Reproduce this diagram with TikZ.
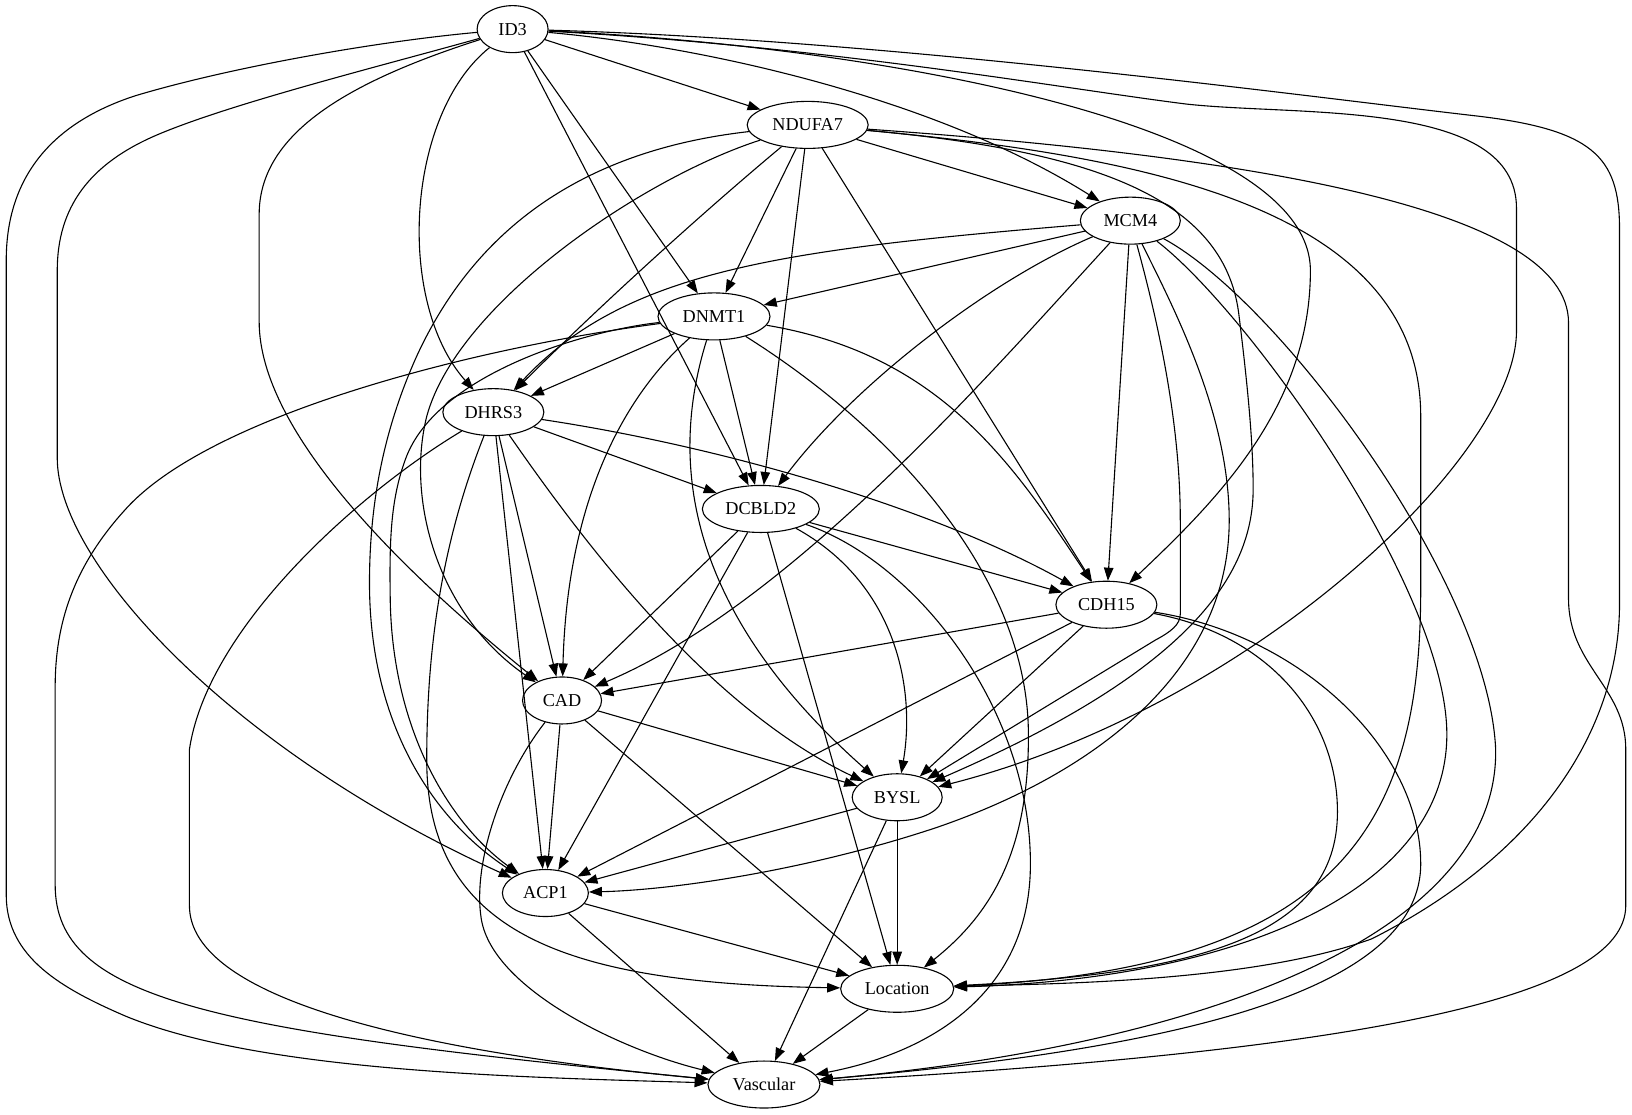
\documentclass[tikz,border=0pt]{standalone}
\usepackage{fontspec}
\setmainfont{Liberation Serif}
\usetikzlibrary{arrows.meta,shapes.geometric}
\begin{document}
\begin{tikzpicture}[x=1.0408pt,y=-1.0408pt,
  nd/.style={draw,ellipse,inner sep=0pt,minimum height=47pt,line width=1.1pt,font=\fontsize{18.2}{20}\selectfont},
  e/.style={-{Triangle[length=13pt,width=9.5pt]},line width=1.1pt}]
\useasboundingbox (0,0) rectangle (1568,1071);
% nodes
\node[nd,minimum width=71pt]  (ID3)      at (492.5,28)  {ID3};
\node[nd,minimum width=121pt] (NDUFA7)   at (776,120)   {NDUFA7};
\node[nd,minimum width=100pt] (MCM4)     at (1086,212)  {MCM4};
\node[nd,minimum width=112pt] (DNMT1)    at (686,304)   {DNMT1};
\node[nd,minimum width=101pt] (DHRS3)    at (474,396)   {DHRS3};
\node[nd,minimum width=117pt] (DCBLD2)   at (731,489)   {DCBLD2};
\node[nd,minimum width=101pt] (CDH15)    at (1063,581)  {CDH15};
\node[nd,minimum width=79pt]  (CAD)      at (540,673)   {CAD};
\node[nd,minimum width=90pt]  (BYSL)     at (862,766)   {BYSL};
\node[nd,minimum width=86pt]  (ACP1)     at (524,858)   {ACP1};
\node[nd,minimum width=113pt] (Location) at (862,950)   {Location};
\node[nd,minimum width=112pt] (Vascular) at (734,1042)  {Vascular};
% ID3
\draw[e] (ID3) -- (NDUFA7);
\draw[e] (ID3) .. controls (680,45) and (900,95) .. (MCM4);
\draw[e] (ID3) -- (DNMT1);
\draw[e] (ID3) .. controls (390,110) and (380,290) .. (DHRS3);
\draw[e] (ID3) -- (DCBLD2);
\draw[e] (ID3) .. controls (850,45) and (1259,120) .. (1259,260) .. controls (1259,390) and (1170,480) .. (CDH15);
\draw[e] (ID3) .. controls (330,80) and (249,130) .. (249,206) -- (249,309) .. controls (249,420) and (400,560) .. (CAD);
\draw[e] (ID3) .. controls (800,45) and (1020,85) .. (1140,100) .. controls (1250,112) and (1457,95) .. (1457,200) -- (1457,318) .. controls (1457,440) and (1200,680) .. (BYSL);
\draw[e] (ID3) .. controls (360,65) and (220,100) .. (150,130) .. controls (85,158) and (55,200) .. (55,260) -- (55,440) .. controls (55,540) and (220,720) .. (ACP1);
\draw[e] (ID3) .. controls (850,38) and (1250,92) .. (1415,111) .. controls (1530,124) and (1556,150) .. (1556,220) -- (1556,580) .. controls (1556,700) and (1480,820) .. (1318,902) .. controls (1200,945) and (1000,945) .. (Location);
\draw[e] (ID3) .. controls (360,40) and (220,65) .. (130,92) .. controls (50,118) and (6,170) .. (6,250) -- (6,860) .. controls (6,920) and (60,950) .. (120,976) .. controls (250,1030) and (500,1035) .. (Vascular);
% NDUFA7
\draw[e] (NDUFA7) -- (MCM4);
\draw[e] (NDUFA7) -- (DNMT1);
\draw[e] (NDUFA7) .. controls (680,200) and (580,290) .. (DHRS3);
\draw[e] (NDUFA7) -- (DCBLD2);
\draw[e] (NDUFA7) -- (CDH15);
\draw[e] (NDUFA7) .. controls (620,170) and (440,290) .. (410,400) .. controls (390,480) and (420,590) .. (CAD);
\draw[e] (NDUFA7) .. controls (1050,145) and (1175,190) .. (1190,300) .. controls (1200,380) and (1204,430) .. (1204,470) .. controls (1204,560) and (1130,650) .. (BYSL);
\draw[e] (NDUFA7) .. controls (600,140) and (470,190) .. (400,343) .. controls (370,410) and (355,480) .. (355,560) .. controls (355,700) and (420,790) .. (ACP1);
\draw[e] (NDUFA7) .. controls (1100,150) and (1365,200) .. (1365,400) -- (1365,560) .. controls (1366,780) and (1300,930) .. (Location);
\draw[e] (NDUFA7) .. controls (1200,150) and (1507,200) .. (1507,310) -- (1507,575) .. controls (1507,640) and (1562,660) .. (1562,720) -- (1562,870) .. controls (1562,960) and (1300,1010) .. (Vascular);
% MCM4
\draw[e] (MCM4) -- (DNMT1);
\draw[e] (MCM4) .. controls (750,240) and (600,260) .. (DHRS3);
\draw[e] (MCM4) .. controls (950,270) and (820,370) .. (DCBLD2);
\draw[e] (MCM4) -- (CDH15);
\draw[e] (MCM4) .. controls (950,360) and (760,580) .. (CAD);
\draw[e] (MCM4) .. controls (1110,300) and (1134,400) .. (1134,500) -- (1134,590) .. controls (1134,600) and (1125,607) .. (1110,615) -- (BYSL);
\draw[e] (MCM4) .. controls (1130,300) and (1181,400) .. (1181,500) .. controls (1181,640) and (1060,740) .. (900,795) .. controls (780,835) and (650,855) .. (ACP1);
\draw[e] (MCM4) .. controls (1200,300) and (1385,560) .. (1390,700) .. controls (1395,850) and (1200,940) .. (Location);
\draw[e] (MCM4) .. controls (1230,290) and (1430,560) .. (1437,720) .. controls (1440,900) and (1150,1005) .. (Vascular);
% DNMT1
\draw[e] (DNMT1) -- (DHRS3);
\draw[e] (DNMT1) -- (DCBLD2);
\draw[e] (DNMT1) .. controls (900,340) and (970,440) .. (CDH15);
\draw[e] (DNMT1) .. controls (600,380) and (545,480) .. (CAD);
\draw[e] (DNMT1) .. controls (650,420) and (640,570) .. (BYSL);
\draw[e] (DNMT1) .. controls (560,318) and (420,360) .. (390,440) .. controls (375,480) and (374,520) .. (375,580) .. controls (378,700) and (430,790) .. (ACP1);
\draw[e] (DNMT1) .. controls (870,420) and (985,560) .. (988,700) .. controls (990,820) and (950,880) .. (Location);
\draw[e] (DNMT1) .. controls (450,335) and (200,400) .. (120,490) .. controls (70,545) and (53,600) .. (53,660) -- (53,850) .. controls (53,960) and (200,990) .. (Vascular);
% DHRS3
\draw[e] (DHRS3) -- (DCBLD2);
\draw[e] (DHRS3) .. controls (700,430) and (900,490) .. (CDH15);
\draw[e] (DHRS3) -- (CAD);
\draw[e] (DHRS3) .. controls (560,520) and (680,680) .. (BYSL);
\draw[e] (DHRS3) -- (ACP1);
\draw[e] (DHRS3) .. controls (425,520) and (410,620) .. (410,730) .. controls (410,900) and (550,945) .. (Location);
\draw[e] (DHRS3) .. controls (350,470) and (200,600) .. (182,720) -- (182,870) .. controls (182,960) and (400,1010) .. (Vascular);
% DCBLD2
\draw[e] (DCBLD2) -- (CDH15);
\draw[e] (DCBLD2) -- (CAD);
\draw[e] (DCBLD2) .. controls (860,560) and (880,660) .. (BYSL);
\draw[e] (DCBLD2) -- (ACP1);
\draw[e] (DCBLD2) -- (Location);
\draw[e] (DCBLD2) .. controls (880,540) and (990,680) .. (990,830) .. controls (990,950) and (900,1010) .. (Vascular);
% CDH15
\draw[e] (CDH15) -- (CAD);
\draw[e] (CDH15) -- (BYSL);
\draw[e] (CDH15) -- (ACP1);
\draw[e] (CDH15) .. controls (1220,610) and (1285,690) .. (1285,780) .. controls (1285,900) and (1150,935) .. (Location);
\draw[e] (CDH15) .. controls (1250,610) and (1365,720) .. (1365,830) .. controls (1365,960) and (1100,1010) .. (Vascular);
% CAD
\draw[e] (CAD) -- (BYSL);
\draw[e] (CAD) -- (ACP1);
\draw[e] (CAD) -- (Location);
\draw[e] (CAD) .. controls (480,750) and (455,830) .. (462,880) .. controls (470,950) and (600,1010) .. (Vascular);
% BYSL
\draw[e] (BYSL) -- (ACP1);
\draw[e] (BYSL) -- (Location);
\draw[e] (BYSL) -- (Vascular);
% ACP1
\draw[e] (ACP1) -- (Location);
\draw[e] (ACP1) -- (Vascular);
% Location
\draw[e] (Location) -- (Vascular);
\end{tikzpicture}
\end{document}
